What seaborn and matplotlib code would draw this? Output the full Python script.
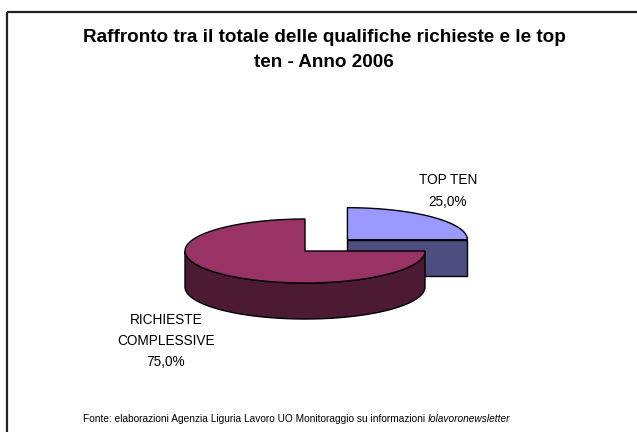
import numpy as np
import matplotlib
matplotlib.use("Agg")
import matplotlib.pyplot as plt
from matplotlib.patches import Polygon, Rectangle
import seaborn as sns

# dati del grafico
labels = ["TOP TEN", "RICHIESTE\nCOMPLESSIVE"]
values = [25.0, 75.0]
explode = [0.5, 0.0]
title = "Raffronto tra il totale delle qualifiche richieste e le top\nten - Anno 2006"
fonte = "Fonte: elaborazioni Agenzia Liguria Lavoro UO Monitoraggio su informazioni "
fonte_it = "Iolavoronewsletter"

sns.set_theme(style="white")
plt.rcParams["font.family"] = ["Liberation Sans", "DejaVu Sans"]

top_colors = ["#9999FF", "#993366"]
side_colors = ["#4D4D80", "#4D1A33"]

fig = plt.figure(figsize=(6.37, 4.32), dpi=100)
ax = fig.add_axes([0, 0, 1, 1])
ax.set_xlim(0, 637)
ax.set_ylim(432, 0)
ax.axis("off")

# cornice
ax.add_patch(Rectangle((6.5, 11.5), 700, 500, fill=False, lw=1.6, ec="#222222"))

# geometria della torta 3D (coordinate in pixel)
cx, cy = 305, 251
rx, ry = 120, 32
depth = 36


def pt(c, t, dz=0):
    return (c[0] + rx * np.cos(t), c[1] - ry * np.sin(t) + dz)


fracs = np.array(values) / sum(values)
starts = np.concatenate([[0], np.cumsum(fracs)[:-1]]) * 2 * np.pi
ends = np.cumsum(fracs) * 2 * np.pi

# prima la fetta staccata (sta dietro), poi quella grande
for i in range(len(values)):
    a0, a1 = starts[i], ends[i]
    mid = (a0 + a1) / 2
    c = (cx + explode[i] * rx * np.cos(mid), cy - explode[i] * ry * np.sin(mid))
    ts = np.linspace(a0, a1, 200)
    # lato radiale frontale della fetta staccata
    if i == 0:
        p = pt(c, a0)
        face = [c, p, (p[0], p[1] + depth), (c[0], c[1] + depth)]
        ax.add_patch(Polygon(face, closed=True, fc=side_colors[i], ec="black", lw=1))
    # lato curvo visibile (metà anteriore)
    lo, hi = max(a0, np.pi), min(a1, 2 * np.pi)
    if hi > lo:
        tt = np.linspace(lo, hi, 200)
        upper = [pt(c, t) for t in tt]
        lower = [pt(c, t, depth) for t in tt[::-1]]
        ax.add_patch(Polygon(upper + lower, closed=True, fc=side_colors[i], ec="black", lw=1))
    # faccia superiore
    top = [c] + [pt(c, t) for t in ts]
    ax.add_patch(Polygon(top, closed=True, fc=top_colors[i], ec="black", lw=1))

# etichette
lab_pos = [(448, 191), (166, 341)]
for i in range(len(values)):
    txt = labels[i] + "\n" + f"{values[i]:.1f}%".replace(".", ",")
    ax.text(lab_pos[i][0], lab_pos[i][1], txt, ha="center", va="center",
            fontsize=9.8, linespacing=1.65, color="black")

ax.text(324, 50, title, ha="center", va="center", fontsize=13.6,
        fontweight="bold", linespacing=1.6, color="black")

t1 = ax.text(83, 419, fonte, ha="left", va="center", fontsize=7.3, color="black")
ax.annotate(fonte_it, xy=(1, 0), xycoords=t1, ha="left", va="bottom",
            fontsize=7.3, style="italic", color="black")

fig.savefig("out.png", dpi=100)
